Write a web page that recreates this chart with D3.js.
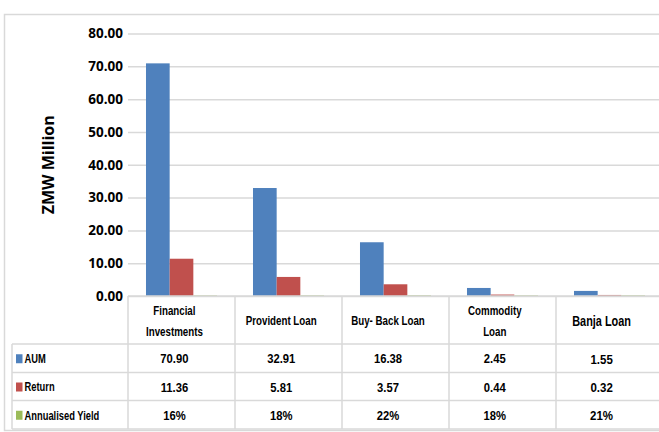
<!DOCTYPE html>
<html>
<head>
<meta charset="utf-8">
<script src="https://cdn.jsdelivr.net/npm/d3@7/dist/d3.min.js"></script>
<style>
  html, body { margin: 0; padding: 0; background: #fff; }
  svg { display: block; }
  .tick-label { font-family: "Open Sans", "Liberation Sans", sans-serif; font-weight: 700; font-size: 13.5px; fill: #000; }
  .cell { font-family: "Liberation Sans", Arial, sans-serif; font-weight: 700; fill: #000; }
</style>
</head>
<body>
<svg id="chart" width="659" height="432"></svg>
<script>
// Portfolio figures by product (ZMW million)
const categories = ["Financial Investments", "Provident Loan", "Buy- Back Loan", "Commodity Loan", "Banja Loan"];
const headerLines = [["Financial", "Investments"], ["Provident Loan"], ["Buy- Back Loan"], ["Commodity", "Loan"], ["Banja Loan"]];
const seriesNames = ["AUM", "Return", "Annualised Yield"];
const seriesColors = ["#4F81BD", "#C0504D", "#9BBB59"];
const aum = [70.90, 32.91, 16.38, 2.45, 1.55];
const returns = [11.36, 5.81, 3.57, 0.44, 0.32];
const yieldPct = [16, 18, 22, 18, 21];
const yTicks = [0, 10, 20, 30, 40, 50, 60, 70, 80];

// Yield is plotted as a fraction on the same axis, so its bars sit almost on zero
const seriesValues = [aum, returns, yieldPct.map(v => v / 100)];
const seriesLabels = [
  aum.map(v => v.toFixed(2)),
  returns.map(v => v.toFixed(2)),
  yieldPct.map(v => v + "%")
];

const svg = d3.select("#chart");
const grid = "#d9d9d9";

const plotLeft = 128, plotRight = 663, plotTop = 33.5, plotBottom = 296;
const tableLeft = 12;
const rowEdges = [296, 344, 372.5, 400.5, 429];

// narrow bold text: horizontally squeezed Liberation Sans
function cellText(x, y, str, size, sx, anchor) {
  return svg.append("text").attr("class", "cell")
    .attr("transform", `translate(${x},${y}) scale(${sx},1)`)
    .attr("dy", "0.36em")
    .attr("text-anchor", anchor || "middle")
    .style("font-size", size + "px")
    .text(str);
}

// outer frame
svg.append("rect")
  .attr("x", 4.5).attr("y", 14.5)
  .attr("width", 700).attr("height", 416)
  .attr("fill", "none").attr("stroke", grid).attr("stroke-width", 1.5);

const x0 = d3.scaleBand().domain(categories).range([plotLeft, plotRight]).paddingInner(0).paddingOuter(0);
const x1 = d3.scaleBand().domain(seriesNames).range([0, x0.bandwidth()]).paddingInner(0).paddingOuter(0.76);
// table text sits a little left of the cell centres
const xt = d3.scaleBand().domain(categories).range([121, 655]);
const y = d3.scaleLinear().domain([0, 80]).range([plotBottom, plotTop]);

// gridlines and tick labels
const yAxis = d3.axisLeft(y).tickValues(yTicks).tickSize(0).tickFormat(d => d.toFixed(2)).tickPadding(6);
const yg = svg.append("g").attr("transform", `translate(${plotLeft},0)`).call(yAxis);
yg.select(".domain").remove();
yg.selectAll(".tick text").attr("class", "tick-label").attr("fill", "#000").attr("x", -5);
yg.selectAll(".tick").append("line")
  .attr("x1", 0).attr("x2", plotRight - plotLeft)
  .attr("stroke", grid).attr("stroke-width", 1.5);

// axis title
svg.append("text")
  .attr("transform", `translate(54,${(plotTop + plotBottom) / 2}) rotate(-90)`)
  .attr("text-anchor", "middle")
  .style("font-family", "'Open Sans', 'Liberation Sans', sans-serif")
  .style("font-weight", 700).style("font-size", "16px")
  .text("ZMW Million");

// bars
seriesNames.forEach((name, si) => {
  svg.append("g").selectAll("rect")
    .data(categories.map((c, i) => ({ c, v: seriesValues[si][i] })))
    .join("rect")
    .attr("x", d => x0(d.c) + x1(name))
    .attr("width", x1.bandwidth())
    .attr("y", d => y(d.v))
    .attr("height", d => Math.max(0, y(0) - y(d.v)))
    .attr("fill", seriesColors[si]);
});

// data table grid
const tg = svg.append("g").attr("stroke", grid).attr("stroke-width", 1.5);
tg.append("line").attr("x1", plotLeft).attr("x2", plotRight).attr("y1", rowEdges[0]).attr("y2", rowEdges[0]);
rowEdges.slice(1).forEach(ry => {
  tg.append("line").attr("x1", tableLeft).attr("x2", plotRight).attr("y1", ry).attr("y2", ry);
});
tg.append("line").attr("x1", tableLeft).attr("x2", tableLeft).attr("y1", rowEdges[1]).attr("y2", rowEdges[4]);
categories.forEach(c => {
  tg.append("line").attr("x1", x0(c)).attr("x2", x0(c)).attr("y1", rowEdges[0]).attr("y2", rowEdges[4]);
});

// column headers (the last column is set in a larger face)
const lastCat = categories[categories.length - 1];
categories.forEach((c, i) => {
  const cx = xt(c) + xt.bandwidth() / 2;
  const lines = headerLines[i];
  const big = c === lastCat;
  const lh = 21;
  const mid = (rowEdges[0] + rowEdges[1]) / 2 + 0.5;
  lines.forEach((ln, li) => {
    const off = (li - (lines.length - 1) / 2) * lh;
    if (big) cellText(cx, mid + off, ln, 14, 0.78);
    else cellText(cx, mid + off, ln, 12.5, 0.78);
  });
});

// table rows: legend key, series name, values
seriesNames.forEach((name, si) => {
  const mid = (rowEdges[si + 1] + rowEdges[si + 2]) / 2 + 0.5;
  svg.append("rect")
    .attr("x", 16).attr("y", mid - 4.5)
    .attr("width", 6.5).attr("height", 9)
    .attr("fill", seriesColors[si]);
  cellText(24.5, mid, name, 12, 0.78, "start");
  categories.forEach((c, i) => {
    const cx = xt(c) + xt.bandwidth() / 2;
    if (c === lastCat) cellText(cx, mid, seriesLabels[si][i], 13.5, 0.85);
    else cellText(cx, mid, seriesLabels[si][i], 12.5, 0.9);
  });
});
</script>
</body>
</html>
